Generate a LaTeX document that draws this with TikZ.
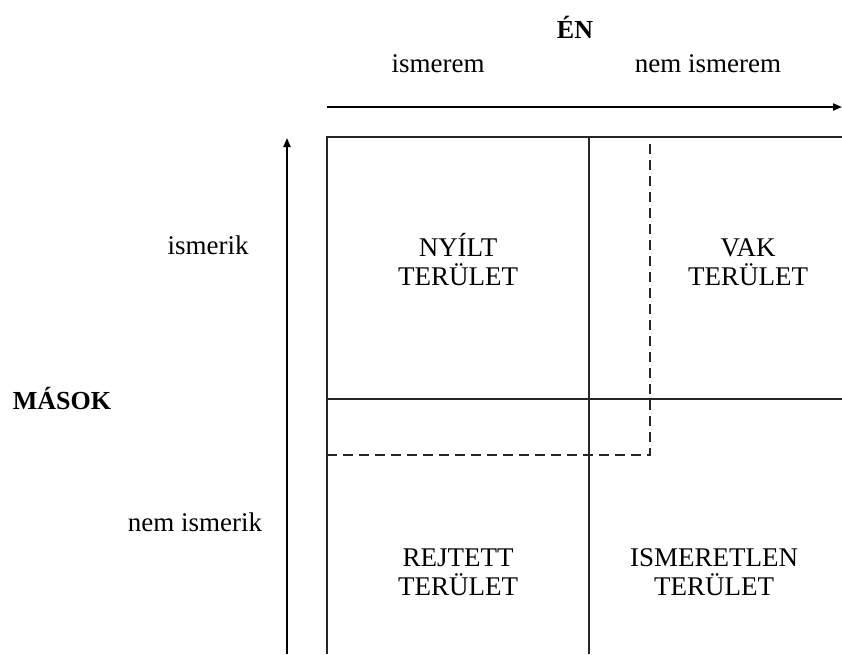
\documentclass[tikz,border=0pt]{standalone}
\usepackage{fontspec}
\setmainfont{Liberation Serif}
\usetikzlibrary{arrows.meta}
\tikzset{
  lbl/.style={font=\fontsize{27}{29}\selectfont, inner sep=0pt},
  hdr/.style={lbl, font=\fontsize{26}{29}\selectfont\bfseries},
  area/.style={lbl, align=center},
  gridline/.style={draw=black!85, line width=2.4pt},
  borderline/.style={gridline, line width=2.2pt, dash pattern=on 10pt off 6pt},
  axis/.style={-{Triangle[length=9pt,width=7pt]}, draw=black, line width=2pt}
}
\begin{document}
\begin{tikzpicture}[x=1pt, y=-1pt]
  \useasboundingbox (0,0) rectangle (842,654);
  % grid corners
  \coordinate (tl) at (327,137);
  \coordinate (tm) at (589,137);
  \coordinate (tr) at (842,137);
  \coordinate (ml) at (327,399);
  \coordinate (mr) at (842,399);
  \coordinate (bl) at (327,654);
  \coordinate (bm) at (589,654);
  % moved border of the open area
  \coordinate (dt) at (650,137);
  \coordinate (dc) at (650,455);
  \coordinate (dl) at (327,455);
  % axes
  \coordinate (enL) at (327,107);
  \coordinate (enR) at (842,107);
  \coordinate (masB) at (287,654);
  \coordinate (masT) at (287,138);

  \draw[gridline] (bl) -- (tl) -- (tr);
  \draw[gridline] (tm) -- (bm);
  \draw[gridline] (ml) -- (mr);
  \draw[borderline] (dl) -- (dc) -- (dt);
  \draw[axis] (enL) -- (enR);
  \draw[axis] (masB) -- (masT);

  \node[hdr, anchor=base] (en) at (575,38) {ÉN};
  \node[lbl, anchor=base] (ismerem) at (438,72) {ismerem};
  \node[lbl, anchor=base] (nemismerem) at (708,72) {nem ismerem};
  \node[lbl, anchor=base] (ismerik) at (208,254) {ismerik};
  \node[lbl, anchor=base] (nemismerik) at (195,531) {nem ismerik};
  \node[hdr, anchor=base] (masok) at (62,409) {MÁSOK};

  \node[area] (nyilt) at (458,260) {NYÍLT\\TERÜLET};
  \node[area] (vak) at (748,262) {VAK\\TERÜLET};
  \node[area] (rejtett) at (458,572) {REJTETT\\TERÜLET};
  \node[area] (ismeretlen) at (714,572) {ISMERETLEN\\TERÜLET};
\end{tikzpicture}
\end{document}
